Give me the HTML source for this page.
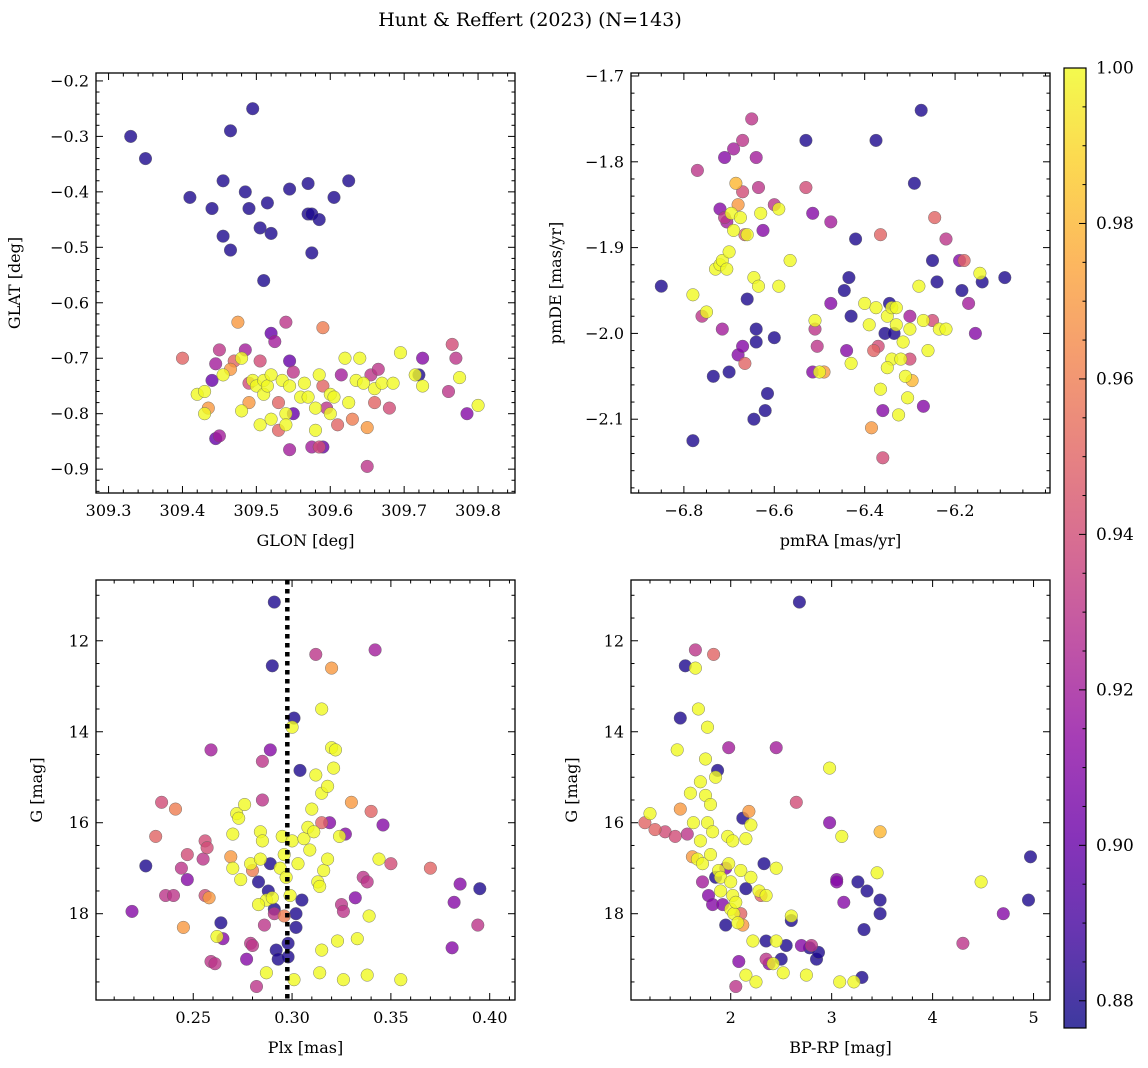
<!DOCTYPE html>
<html><head><meta charset="utf-8">
<style>
html,body{margin:0;padding:0;background:#fff;}
svg{display:block;font-family:"DejaVu Serif","Liberation Serif",serif;}
</style></head>
<body>
<svg id="fig" width="1148" height="1068" viewBox="0 0 1148 1068" xmlns="http://www.w3.org/2000/svg">
<text x="530" y="26" text-anchor="middle" font-size="19">Hunt &amp; Reffert (2023) (N=143)</text>
</svg>
<script>
// ---- Panel 1: GLON / GLAT / probability ----
const glon1 = [309.33,309.35,309.41,309.44,309.455,309.455,309.465,309.465,309.485,309.49,309.495,309.505,309.51,309.515,309.52,309.545,309.57,309.57,309.575,309.575,309.585,309.605,309.625,309.52,309.545,309.44,309.445,309.72,309.59,
309.40,309.42,309.43,309.435,309.445,309.45,309.45,309.455,309.465,309.47,309.475,309.48,309.48,309.485,309.49,309.49,309.495,309.5,309.505,309.505,309.51,309.51,309.515,309.52,309.52,309.525,309.53,309.53,309.535,309.54,309.54,309.54,309.545,309.55,309.55,309.56,309.565,309.57,309.575,309.58,309.58,309.585,309.585,309.59,309.59,309.595,309.6,309.6,309.605,309.61,309.615,309.62,309.625,309.63,309.635,309.64,309.645,309.65,309.65,309.655,309.66,309.66,309.665,309.67,309.68,309.685,309.695,309.715,309.725,309.725,309.76,309.765,309.77,309.775,309.785,309.8,309.545,309.43];
const glat1 = [-0.30,-0.34,-0.41,-0.43,-0.38,-0.48,-0.29,-0.505,-0.40,-0.43,-0.25,-0.465,-0.56,-0.42,-0.475,-0.395,-0.385,-0.44,-0.44,-0.51,-0.45,-0.41,-0.38,-0.655,-0.705,-0.74,-0.845,-0.73,-0.86,
-0.70,-0.765,-0.80,-0.79,-0.71,-0.685,-0.84,-0.73,-0.72,-0.705,-0.635,-0.795,-0.70,-0.685,-0.745,-0.78,-0.74,-0.75,-0.82,-0.705,-0.74,-0.765,-0.75,-0.73,-0.81,-0.67,-0.78,-0.83,-0.74,-0.635,-0.80,-0.82,-0.75,-0.725,-0.80,-0.77,-0.745,-0.77,-0.86,-0.79,-0.83,-0.73,-0.86,-0.645,-0.75,-0.79,-0.80,-0.765,-0.77,-0.82,-0.73,-0.70,-0.78,-0.81,-0.74,-0.70,-0.745,-0.825,-0.895,-0.73,-0.755,-0.78,-0.72,-0.745,-0.79,-0.745,-0.69,-0.73,-0.70,-0.75,-0.76,-0.675,-0.70,-0.735,-0.80,-0.785,-0.865,-0.76];
const prob1 = [.88,.88,.88,.88,.88,.88,.88,.88,.88,.88,.88,.88,.88,.88,.88,.88,.88,.88,.88,.88,.88,.88,.88,.90,.90,.90,.90,.88,.90,
.95,1,1,.97,.92,.93,.92,1,.97,.95,.97,1,1,.92,.94,.97,1,1,1,.94,1,1,1,1,1,.92,.95,.95,1,.93,1,1,1,.93,.90,1,1,1,.92,1,1,1,.94,.96,.95,.93,1,1,1,.95,.92,1,1,.96,1,1,1,.97,.93,.93,1,.95,.93,1,.94,1,1,1,.91,1,.93,.94,.93,1,.91,1,.92,1];

// ---- Panel 2: pmRA / pmDE / probability ----
const pmra2 = [-6.85,-6.78,-6.77,-6.76,-6.75,-6.78,-6.735,-6.73,-6.72,-6.715,-6.71,-6.705,-6.72,-6.715,-6.71,-6.70,-6.705,-6.70,-6.695,-6.69,-6.69,-6.685,-6.68,-6.68,-6.675,-6.67,-6.67,-6.665,-6.66,-6.67,-6.665,-6.66,-6.65,-6.645,-6.64,-6.635,-6.64,-6.64,-6.635,-6.63,-6.625,-6.62,-6.615,-6.645,-6.6,-6.6,-6.59,-6.59,-6.565,-6.53,-6.53,-6.515,-6.51,-6.51,-6.505,-6.5,-6.49,-6.515,-6.475,-6.475,-6.445,-6.435,-6.43,-6.43,-6.42,-6.4,-6.385,-6.375,-6.375,-6.37,-6.365,-6.365,-6.36,-6.36,-6.355,-6.35,-6.345,-6.34,-6.34,-6.335,-6.33,-6.325,-6.32,-6.315,-6.31,-6.305,-6.3,-6.3,-6.295,-6.29,-6.28,-6.275,-6.27,-6.27,-6.26,-6.25,-6.25,-6.24,-6.245,-6.235,-6.22,-6.22,-6.19,-6.185,-6.18,-6.17,-6.155,-6.145,-6.14,-6.09,-6.38,-6.33,-6.35,-6.3,-6.44,-6.39];
const pmde2 = [-1.945,-1.955,-1.81,-1.98,-1.975,-2.125,-2.05,-1.925,-1.92,-1.915,-1.865,-1.87,-1.855,-1.995,-1.795,-2.045,-1.925,-1.905,-1.86,-1.88,-1.785,-1.825,-2.025,-1.85,-1.865,-1.775,-1.835,-1.885,-1.96,-2.015,-2.035,-1.885,-1.75,-1.935,-1.795,-1.83,-1.995,-2.01,-1.945,-1.86,-1.88,-2.09,-2.07,-2.1,-2.005,-1.85,-1.855,-1.945,-1.915,-1.775,-1.83,-1.86,-1.985,-1.995,-2.015,-2.045,-2.045,-2.045,-1.87,-1.965,-1.95,-1.935,-1.98,-2.035,-1.89,-1.965,-2.11,-1.97,-1.775,-2.015,-2.065,-1.885,-2.09,-2.145,-2.0,-1.98,-1.965,-2.03,-1.97,-2.0,-1.99,-2.095,-2.03,-2.01,-2.05,-2.075,-1.98,-2.03,-2.055,-1.825,-1.945,-1.74,-1.985,-2.085,-2.02,-1.915,-1.985,-1.94,-1.865,-1.995,-1.995,-1.89,-1.915,-1.95,-1.915,-1.965,-2.0,-1.93,-1.94,-1.935,-2.02,-1.97,-2.04,-1.995,-2.02,-1.99];
const prob2 = [.88,1,.93,.93,1,.88,.88,1,1,1,.93,.92,.91,.92,.91,.88,1,1,1,1,.92,.98,.91,.97,1,.93,.94,.95,.88,.91,.95,1,.93,1,.92,.93,.88,.88,1,1,.91,.88,.88,.88,.88,.93,1,1,1,.88,.94,.91,1,.93,.93,1,.97,.91,.92,.91,.88,.88,.88,1,.88,1,.97,1,.88,.94,1,.95,.91,.94,.88,1,.88,1,1,.88,1,1,1,1,1,1,.92,.94,.98,.88,1,.88,1,.91,1,.88,.94,.88,.95,1,1,.93,.91,.88,.95,.92,.91,1,.88,.88,.95,1,1,1,.91,1];

// ---- Panel 3: Plx / G / probability ----
const plx3 = [0.219,0.226,0.231,0.234,0.236,0.24,0.241,0.244,0.245,0.247,0.247,0.255,0.256,0.256,0.257,0.258,0.259,0.259,0.261,0.262,0.264,0.265,0.269,0.27,0.27,0.272,0.273,0.274,0.276,0.277,0.279,0.279,0.28,0.28,0.282,0.283,0.284,0.284,0.285,0.285,0.285,0.286,0.287,0.287,0.288,0.289,0.289,0.29,0.291,0.29,0.291,0.292,0.293,0.294,0.295,0.296,0.297,0.298,0.298,0.299,0.3,0.3,0.301,0.301,0.302,0.302,0.303,0.304,0.305,0.306,0.308,0.309,0.31,0.311,0.312,0.312,0.313,0.314,0.314,0.315,0.315,0.315,0.315,0.316,0.318,0.318,0.319,0.32,0.32,0.321,0.322,0.323,0.324,0.325,0.326,0.326,0.327,0.33,0.332,0.333,0.336,0.338,0.338,0.339,0.34,0.342,0.344,0.346,0.35,0.355,0.37,0.381,0.382,0.385,0.394,0.395,0.291,0.296,0.283];
const g3 = [17.95,16.95,16.3,15.55,17.6,17.6,15.7,17.0,18.3,16.7,17.25,16.8,16.4,17.6,16.55,17.65,19.05,14.4,19.1,18.5,18.2,18.55,16.75,17.0,16.25,15.8,15.9,17.25,15.6,19.0,16.9,18.65,18.7,17.05,19.6,17.3,16.8,16.2,16.4,15.5,14.65,18.25,19.3,17.7,17.5,16.9,14.4,12.55,11.15,17.65,17.9,18.8,19.0,17.0,16.3,18.05,17.2,18.65,18.95,17.6,16.4,13.9,13.7,19.45,18.3,18.0,16.9,14.85,17.7,16.35,16.1,16.6,15.7,16.2,14.95,12.3,17.3,17.4,19.3,16.0,13.5,18.8,15.35,17.05,16.8,15.2,16.0,12.6,14.35,14.8,14.4,18.6,16.3,17.8,17.95,19.45,16.25,15.55,17.65,18.55,17.2,17.3,19.35,18.05,15.75,12.2,16.8,16.05,16.9,19.45,17.0,18.75,17.75,17.35,18.25,17.45,18.0,16.7,17.8];
const prob3 = [.91,.88,.95,.94,.93,.93,.96,.93,.97,.94,.91,.93,.94,.94,.94,.97,.93,.92,.93,1,.88,.91,.97,1,1,1,1,1,1,.91,1,.93,.93,.96,.93,.88,1,1,1,.93,.93,.93,1,1,.88,.88,.91,.88,.88,1,.88,.88,.88,1,1,.96,1,.88,.88,1,1,1,.88,1,.88,.88,1,.88,.88,1,1,1,1,1,1,.93,1,1,1,.95,1,1,1,1,1,1,.91,.97,1,1,1,1,1,.93,.93,1,.91,.97,.91,1,.93,.93,1,1,.95,.92,1,.91,.94,1,.95,.91,.91,.91,.93,.88,.93,1,1];

// ---- Panel 4: BP-RP / G / probability ----
const bprp4 = [1.15,1.2,1.25,1.35,1.45,1.47,1.5,1.5,1.55,1.57,1.6,1.62,1.63,1.65,1.65,1.67,1.68,1.7,1.7,1.72,1.72,1.75,1.75,1.77,1.77,1.78,1.8,1.8,1.82,1.82,1.83,1.85,1.85,1.87,1.88,1.9,1.9,1.92,1.95,1.95,1.97,1.98,1.98,2.0,2.0,2.02,2.02,2.03,2.05,2.05,2.07,2.08,2.1,2.1,2.12,2.12,2.15,2.15,2.15,2.18,2.2,2.2,2.22,2.25,2.28,2.3,2.33,2.35,2.35,2.35,2.38,2.42,2.45,2.45,2.45,2.5,2.52,2.55,2.6,2.6,2.65,2.68,2.7,2.75,2.78,2.8,2.85,2.87,2.98,2.98,3.05,3.05,3.08,3.1,3.12,3.22,3.26,3.3,3.32,3.35,3.45,3.48,3.48,3.48,4.3,4.48,4.7,4.95,4.97];
const g4 = [16.0,15.8,16.15,16.2,16.3,14.4,15.7,13.7,12.55,16.25,15.35,16.75,16.0,12.2,12.6,16.8,13.5,15.1,16.4,16.9,17.3,14.6,15.4,13.9,16.0,17.6,15.6,16.7,16.2,17.8,12.3,17.2,15.0,14.85,17.05,17.2,17.5,17.8,18.25,17.0,16.3,16.9,14.35,17.3,17.9,16.4,17.6,18.0,17.75,19.6,18.2,19.05,18.0,17.05,18.25,15.9,16.35,17.45,19.35,15.75,17.2,16.05,18.6,19.5,17.5,17.6,16.9,17.6,18.6,19.0,19.1,19.1,18.6,17.0,14.35,19.0,19.3,18.7,18.15,18.05,15.55,11.15,18.7,19.35,18.75,18.7,19.0,18.85,14.8,16.0,17.25,17.3,19.5,16.3,17.75,19.5,17.3,19.4,18.35,17.5,17.1,16.2,17.7,18.0,18.65,17.3,18.0,17.7,16.75];
const prob4 = [.95,1,.95,.94,.94,1,.97,.88,.88,.93,1,.97,1,.93,1,1,1,1,1,1,.92,1,1,1,1,.91,1,1,1,.91,.95,.88,1,.88,1,1,1,.91,.88,.91,1,1,.92,1,1,1,1,1,1,.93,1,.91,.95,1,.97,.88,1,.88,1,.97,1,1,1,1,1,.95,.88,1,.88,.93,.91,1,1,1,.92,.88,1,.88,.88,1,.94,.88,.91,1,.88,.93,.88,.88,1,.91,.91,.91,1,1,.91,1,.88,.88,.88,.88,1,.98,.88,.88,.93,1,.91,.88,.88];

// ---- tick labels ----
const ticks1x = [309.3,309.4,309.5,309.6,309.7,309.8];
const ticks1y = [-0.9,-0.8,-0.7,-0.6,-0.5,-0.4,-0.3,-0.2];
const ticks2x = [-6.8,-6.6,-6.4,-6.2];
const ticks2y = [-2.1,-2.0,-1.9,-1.8,-1.7];
const ticks3x = [0.25,0.30,0.35,0.40];
const ticksGy = [12,14,16,18];
const ticks4x = [2,3,4,5];
const ticksCb = [0.88,0.90,0.92,0.94,0.96,0.98,1.00];
const plxLine = 0.2976;

const NS = "http://www.w3.org/2000/svg";
const svg = document.getElementById('fig');
function mk(tag, attrs, parent){ const e=document.createElementNS(NS,tag); for(const k in attrs) e.setAttribute(k,attrs[k]); (parent||svg).appendChild(e); return e; }

const plasma = ["#0d0887","#41049d","#6a00a8","#8f0da4","#b12a90","#cc4778","#e16462","#f2844b","#fca636","#fcce25","#f0f921"];
function hex(h){return [parseInt(h.slice(1,3),16),parseInt(h.slice(3,5),16),parseInt(h.slice(5,7),16)];}
const CMIN=0.8765, CMAX=1.0;
function cmap(p){
  let t=(p-CMIN)/(CMAX-CMIN); t=Math.max(0,Math.min(1,t));
  const f=t*10, i=Math.min(9,Math.floor(f)), r=f-i;
  const a=hex(plasma[i]), b=hex(plasma[i+1]);
  return `rgb(${Math.round(a[0]+(b[0]-a[0])*r)},${Math.round(a[1]+(b[1]-a[1])*r)},${Math.round(a[2]+(b[2]-a[2])*r)})`;
}

function axis(d0,d1,p0,p1){ return v => p0+(v-d0)/(d1-d0)*(p1-p0); }

function panel(cfg){
  const g = mk('g',{});
  
  
  const {L,R,T,B} = cfg;
  const sx = axis(cfg.xd[0],cfg.xd[1],L,R), sy = axis(cfg.yd[0],cfg.yd[1],B,T);
  const pg = mk('g',{},g);
  
  
  const order = cfg.xs.map((_,i)=>i).sort((a,b)=>cfg.ps[a]-cfg.ps[b]);
  order.forEach(i=>{
    const c = mk('circle',{cx:sx(cfg.xs[i]).toFixed(1),cy:sy(cfg.ys[i]).toFixed(1),r:6.3,fill:cmap(cfg.ps[i]),'fill-opacity':0.8,stroke:'#606060','stroke-width':0.5,'stroke-opacity':0.8},pg);
    
    
  });
  if(cfg.extra) cfg.extra(g,sx,sy);
  const fr = mk('rect',{x:L,y:T,width:R-L,height:B-T,fill:'none',stroke:'#000','stroke-width':1.3},g);
  
  
  function ticksX(majors, minorStep){
    const lo=Math.min(...cfg.xd), hi=Math.max(...cfg.xd);
    for(let v=Math.ceil(lo/minorStep-1e-6)*minorStep; v<=hi+1e-9; v+=minorStep){
      const x=sx(v); const major = majors.some(m=>Math.abs(m-v)<minorStep/10);
      const len = major?7:3.5;
      mk('line',{x1:x,x2:x,y1:B,y2:B-len,stroke:'#000','stroke-width':1},g);
      mk('line',{x1:x,x2:x,y1:T,y2:T+len,stroke:'#000','stroke-width':1},g);
    }
    majors.forEach(m=>{
      const t = mk('text',{x:sx(m),y:B+23,'text-anchor':'middle','font-size':16},g);
      t.textContent = cfg.fmtx(m);
      
      
    });
  }
  function ticksY(majors, minorStep){
    const lo=Math.min(...cfg.yd), hi=Math.max(...cfg.yd);
    for(let v=Math.ceil(lo/minorStep-1e-6)*minorStep; v<=hi+1e-9; v+=minorStep){
      const y=sy(v); const major = majors.some(m=>Math.abs(m-v)<minorStep/10);
      const len = major?7:3.5;
      mk('line',{x1:L,x2:L+len,y1:y,y2:y,stroke:'#000','stroke-width':1},g);
      mk('line',{x1:R,x2:R-len,y1:y,y2:y,stroke:'#000','stroke-width':1},g);
    }
    majors.forEach(m=>{
      const t = mk('text',{x:L-7,y:sy(m)+5.5,'text-anchor':'end','font-size':16},g);
      t.textContent = cfg.fmty(m);
      
      
    });
  }
  ticksX(cfg.tx, cfg.mx); ticksY(cfg.ty, cfg.my);
  const xl = mk('text',{x:(L+R)/2,y:B+53,'text-anchor':'middle','font-size':16},g);
  xl.textContent = cfg.xlabel;
  
  
  const yx = L-cfg.ylo, yy=(T+B)/2;
  const yl = mk('text',{x:yx,y:yy,'text-anchor':'middle','font-size':16,transform:`rotate(-90 ${yx} ${yy})`},g);
  yl.textContent = cfg.ylabel;
  
  
}
const minus = s => s.replace('-','\u2212');

panel({name:'glon-glat-panel',L:96,R:515,T:73,B:493,xd:[309.283,309.85],yd:[-0.943,-0.1857],xs:glon1,ys:glat1,ps:prob1,
  tx:ticks1x,ty:ticks1y,mx:0.02,my:0.02,fmtx:v=>v.toFixed(1),fmty:v=>minus(v.toFixed(1)),xlabel:'GLON [deg]',ylabel:'GLAT [deg]',ylo:76});
panel({name:'pm-panel',L:631,R:1050,T:73,B:493,xd:[-6.917,-5.99],yd:[-2.186,-1.6965],xs:pmra2,ys:pmde2,ps:prob2,
  tx:ticks2x,ty:ticks2y,mx:0.05,my:0.02,fmtx:v=>minus(v.toFixed(1)),fmty:v=>minus(v.toFixed(1)),xlabel:'pmRA [mas/yr]',ylabel:'pmDE [mas/yr]',ylo:70});
panel({name:'plx-g-panel',L:96,R:515,T:580,B:1000,xd:[0.2008,0.4128],yd:[19.897,10.664],xs:plx3,ys:g3,ps:prob3,
  tx:ticks3x,ty:ticksGy,mx:0.01,my:0.5,fmtx:v=>v.toFixed(2),fmty:v=>String(v),xlabel:'Plx [mas]',ylabel:'G [mag]',ylo:54,
  extra:(g,sx,sy)=>{ const x=sx(plxLine); const l=mk('line',{x1:x,x2:x,y1:580,y2:1000,stroke:'#000','stroke-width':4.5,'stroke-dasharray':'4.5 4.5'},g);
    
     }});
panel({name:'cmd-panel',L:631,R:1050,T:580,B:1000,xd:[1.012,5.163],yd:[19.897,10.664],xs:bprp4,ys:g4,ps:prob4,
  tx:ticks4x,ty:ticksGy,mx:0.2,my:0.5,fmtx:v=>String(v),fmty:v=>String(v),xlabel:'BP-RP [mag]',ylabel:'G [mag]',ylo:54});

// colorbar
(function(){
  const L=1064,R=1086,T=68,B=1028;
  const cg = mk('g',{});
  
  
  const defs = mk('defs',{},cg);
  const lg = mk('linearGradient',{id:'cbgrad',x1:0,y1:1,x2:0,y2:0},defs);
  plasma.forEach((c,i)=>mk('stop',{offset:i/10,'stop-color':c},lg));
  mk('rect',{x:L,y:T,width:R-L,height:B-T,fill:'url(#cbgrad)','fill-opacity':0.8},cg);
  mk('rect',{x:L,y:T,width:R-L,height:B-T,fill:'none',stroke:'#000','stroke-width':1.2},cg);
  const sy = axis(CMIN,CMAX,B,T);
  for(let v=0.88; v<=1.0001; v+=0.005){
    const y=sy(v); const major = ticksCb.some(m=>Math.abs(m-v)<0.001);
    mk('line',{x1:R,x2:R-(major?7:3.5),y1:y,y2:y,stroke:'#000','stroke-width':1},cg);
  }
  ticksCb.forEach(m=>{
    const t=mk('text',{x:R+10,y:sy(m)+5.5,'font-size':17},cg);
    t.textContent=m.toFixed(2);
    
    
  });
})();
</script>
</body></html>
